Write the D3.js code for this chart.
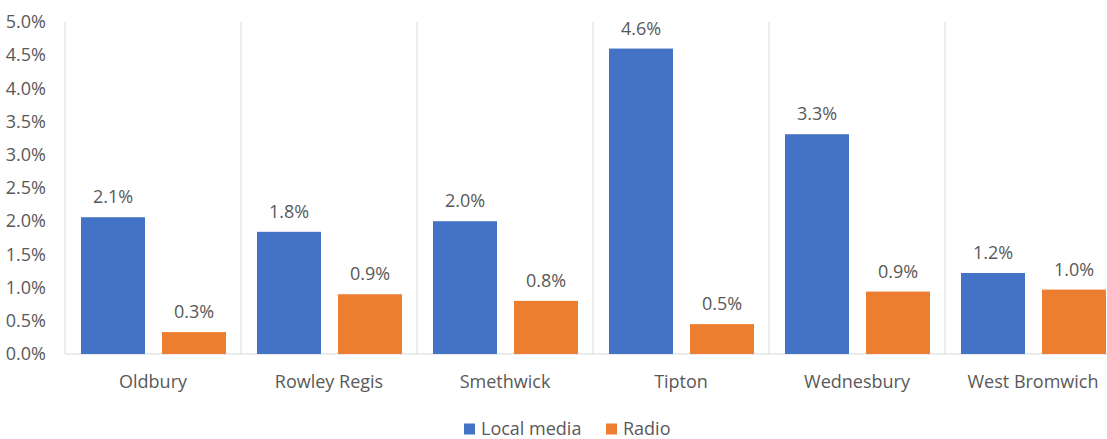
<!DOCTYPE html>
<html>
<head>
<meta charset="utf-8">
<script src="https://cdn.jsdelivr.net/npm/d3@7"></script>
<style>
  html, body { margin: 0; padding: 0; background: #fff; overflow: hidden; }
  text { font-family: "Open Sans", "Noto Sans", sans-serif; fill: #595959; }
</style>
</head>
<body>
<svg id="chart" width="1107" height="439"></svg>
<script>
// Share of respondents by town and source
const towns = ["Oldbury", "Rowley Regis", "Smethwick", "Tipton", "Wednesbury", "West Bromwich"];
const localMedia = [2.06, 1.84, 2.00, 4.60, 3.31, 1.22];
const radio = [0.33, 0.90, 0.80, 0.45, 0.94, 0.97];
const seriesNames = ["Local media", "Radio"];
const seriesColors = ["#4472C4", "#ED7D31"];
const yTicks = [0, 0.5, 1.0, 1.5, 2.0, 2.5, 3.0, 3.5, 4.0, 4.5, 5.0];

const svg = d3.select("#chart");
const plotLeft = 65, bandW = 176;
const plotTop = 22, plotBottom = 354;
const fontSize = 18;

const x = d3.scaleBand().domain(towns).range([plotLeft, plotLeft + bandW * towns.length]).paddingInner(0).paddingOuter(0);
const y = d3.scaleLinear().domain([0, 5]).range([plotBottom, plotTop]);
const inner = d3.scaleBand().domain(seriesNames).range([16, bandW - 15]).paddingInner(17 / 81).paddingOuter(0);

// Category separators
svg.append("g").selectAll("line")
  .data(towns.map((t, i) => i).concat([towns.length]))
  .join("line")
  .attr("x1", i => plotLeft + i * bandW).attr("x2", i => plotLeft + i * bandW)
  .attr("y1", plotTop).attr("y2", plotBottom)
  .attr("stroke", "#d9d9d9").attr("stroke-width", 1);

// Baseline
svg.append("line")
  .attr("x1", plotLeft).attr("x2", plotLeft + bandW * towns.length)
  .attr("y1", plotBottom).attr("y2", plotBottom)
  .attr("stroke", "#d9d9d9").attr("stroke-width", 1);

// Y axis labels
const yAxis = d3.axisLeft(y).tickValues(yTicks).tickFormat(d => d.toFixed(1) + "%").tickSize(0).tickPadding(0);
const gy = svg.append("g").attr("transform", "translate(46,0)").call(yAxis);
gy.select(".domain").remove();
gy.selectAll("text").attr("font-size", fontSize).style("font-family", '"Open Sans", sans-serif').attr("fill", "#595959");

// X axis labels
const xAxis = d3.axisBottom(x).tickSize(0).tickPadding(0);
const gx = svg.append("g").attr("transform", "translate(0,375)").call(xAxis);
gx.select(".domain").remove();
gx.selectAll("text").attr("font-size", fontSize).style("font-family", '"Open Sans", sans-serif').attr("fill", "#595959");

// Bars and value labels
const rows = towns.map((t, i) => ({ town: t, values: [localMedia[i], radio[i]] }));
const groups = svg.append("g").selectAll("g")
  .data(rows).join("g")
  .attr("transform", d => `translate(${x(d.town)},0)`);

groups.selectAll("rect")
  .data(d => d.values.map((v, j) => ({ name: seriesNames[j], v, c: seriesColors[j] })))
  .join("rect")
  .attr("x", d => inner(d.name))
  .attr("width", inner.bandwidth())
  .attr("y", d => y(d.v))
  .attr("height", d => plotBottom - y(d.v))
  .attr("fill", d => d.c);

groups.selectAll("text.val")
  .data(d => d.values.map((v, j) => ({ name: seriesNames[j], v })))
  .join("text")
  .attr("class", "val")
  .attr("x", d => inner(d.name) + inner.bandwidth() / 2)
  .attr("y", d => y(d.v) - 14)
  .attr("text-anchor", "middle")
  .attr("font-size", fontSize)
  .text(d => d.v.toFixed(1) + "%");

// Legend
const legend = svg.append("g").attr("transform", "translate(464,429)");
const items = [{ name: seriesNames[0], c: seriesColors[0], dx: 0 }, { name: seriesNames[1], c: seriesColors[1], dx: 142 }];
const li = legend.selectAll("g").data(items).join("g").attr("transform", d => `translate(${d.dx},0)`);
li.append("rect").attr("x", 0).attr("y", -5.5).attr("width", 11).attr("height", 11).attr("fill", d => d.c);
li.append("text").attr("x", 17).attr("y", 0).attr("dy", "0.35em").attr("font-size", fontSize).text(d => d.name);
</script>
</body>
</html>
